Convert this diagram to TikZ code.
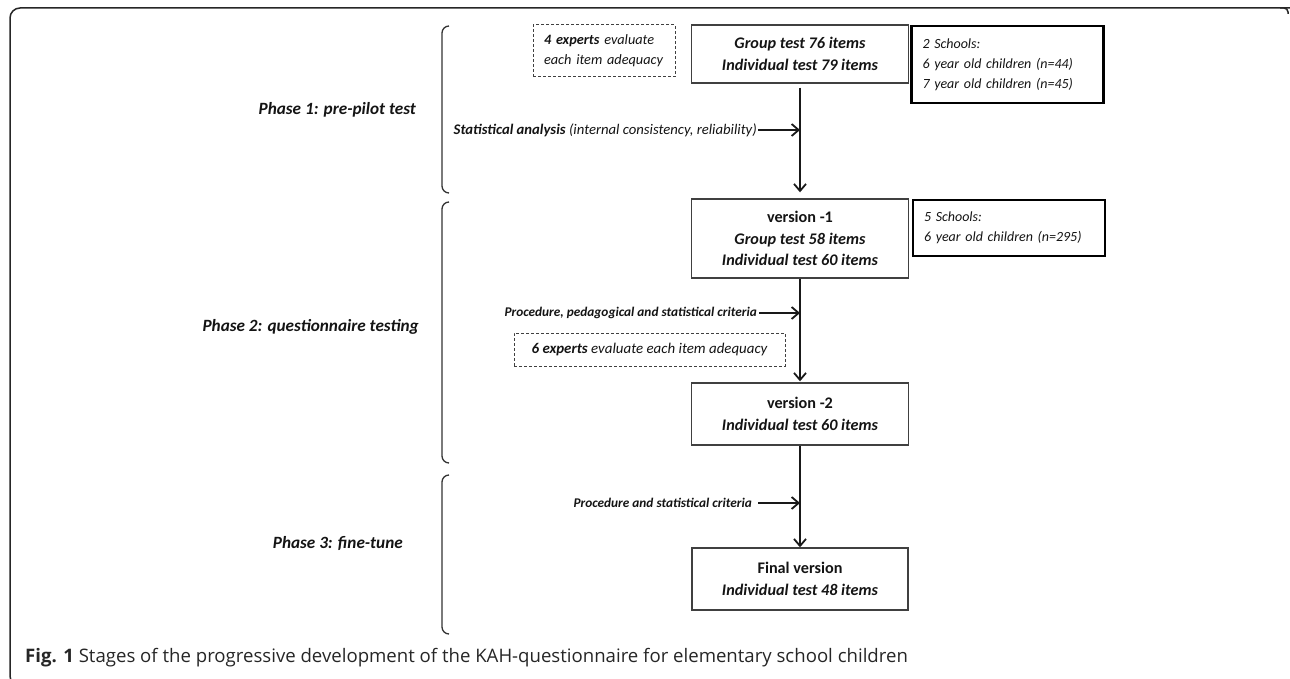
\documentclass[tikz,border=0pt]{standalone}
\usepackage{fontspec}
\setmainfont{Carlito}
\newfontfamily\capfont{Open Sans}
\usetikzlibrary{arrows.meta}
\begin{document}
\begin{tikzpicture}[x=1pt,y=-1pt,
  every node/.style={inner sep=0pt, text=black!92},
  mainbox/.style={draw=black!75, line width=1.4pt, align=center, minimum width=217pt,
    font=\fontsize{16.2}{21.5}\selectfont\bfseries},
  schoolbox/.style={draw=black, line width=2.4pt, align=left, inner xsep=11pt, text width=170pt,
    font=\fontsize{14}{20}\selectfont\itshape},
  dashbox/.style={draw=black!75, line width=1pt, dash pattern=on 3pt off 2pt,
    font=\fontsize{14.3}{20}\selectfont\itshape},
  phase/.style={font=\fontsize{17.2}{20}\selectfont\bfseries\itshape},
  crit/.style={anchor=east, font=\fontsize{13.3}{16}\selectfont\itshape\bfseries},
  arr/.style={-{Straight Barb[length=7pt,width=12pt]}, line width=1.8pt, draw=black!90},
  brk/.style={draw=black!80, line width=1.3pt, rounded corners=7pt},
]
\useasboundingbox (0,0) rectangle (1290,679);

% frame
\draw[black!85, line width=1.5pt, rounded corners=10pt] (18,686) -- (10,686) -- (10,8) -- (1290,8);
\draw[black!85, line width=1.5pt, rounded corners=4pt] (1280,8) -- (1288,8) -- (1288,14);

% brackets
\draw[brk] (449,26) -- (442,26) -- (442,193) -- (449,193);
\draw[brk] (449,202) -- (442,202) -- (442,463) -- (449,463);
\draw[brk] (449,475) -- (442,475) -- (442,634) -- (449,634);

% phase labels
\node[phase, anchor=east] (p1) at (416,110) {Phase 1: pre-pilot test};
\node[phase, anchor=east] (p2) at (419,327) {Phase 2: questionnaire testing};
\node[phase, anchor=east] (p3) at (403,543) {Phase 3: fine-tune};

% boxes
\node[mainbox, minimum height=58pt] (b1) at (800,54)
  {\itshape Group test 76 items\\\itshape Individual test 79 items};
\node[dashbox, align=left, text width=120pt, inner xsep=11pt, minimum height=52pt] (d1) at (604,51)
  {\textbf{4 experts} evaluate\\each item adequacy};
\node[schoolbox, minimum height=77pt] (s1) at (1007.5,64.5)
  {2 Schools:\\6 year old children (n=44)\\7 year old children (n=45)};
\node[mainbox, minimum height=79pt] (v1) at (800,238.5)
  {version -1\\\itshape Group test 58 items\\\itshape Individual test 60 items};
\node[schoolbox, minimum height=56pt] (s2) at (1009,228)
  {5 Schools:\\6 year old children (n=295)};
\node[dashbox, minimum width=271pt, minimum height=33pt, font=\fontsize{14.9}{20}\selectfont\itshape] (d2) at (649.5,349.5)
  {\textbf{6 experts} evaluate each item adequacy};
\node[mainbox, minimum height=62pt] (v2) at (800,414)
  {version -2\\\itshape Individual test 60 items};
\node[mainbox, minimum height=62pt, minimum width=216pt] (fv) at (800,579)
  {Final version\\\itshape Individual test 48 items};

% side labels
\node[anchor=east, font=\fontsize{14.7}{17}\selectfont\itshape] (l1) at (757,130)
  {\textbf{Statistical analysis} (internal consistency, reliability)};
\node[crit] (l2) at (757,313) {Procedure, pedagogical and statistical criteria};
\node[crit] (l3) at (752,503) {Procedure and statistical criteria};
\coordinate (c1) at (800,130);
\coordinate (c2) at (800,313);
\coordinate (c3) at (800,503);

% arrows
\draw[arr, shorten <=4pt, shorten >=6pt] (b1.south) -- (v1.north);
\draw[arr, shorten >=1pt] (v1.south) -- (v2.north);
\draw[arr] (v2.south) -- (fv.north);
\draw[arr, shorten <=1pt] (l1.east) -- (c1);
\draw[arr, shorten <=2pt] (l2.east) -- (c2);
\draw[arr, shorten <=6pt] (l3.east) -- (c3);

% caption
\node[anchor=base west, font=\capfont\fontsize{18.6}{22}\selectfont, text=black!85] (cap) at (25,662)
  {\textbf{Fig. 1} Stages of the progressive development of the KAH-questionnaire for elementary school children};
\end{tikzpicture}
\end{document}
